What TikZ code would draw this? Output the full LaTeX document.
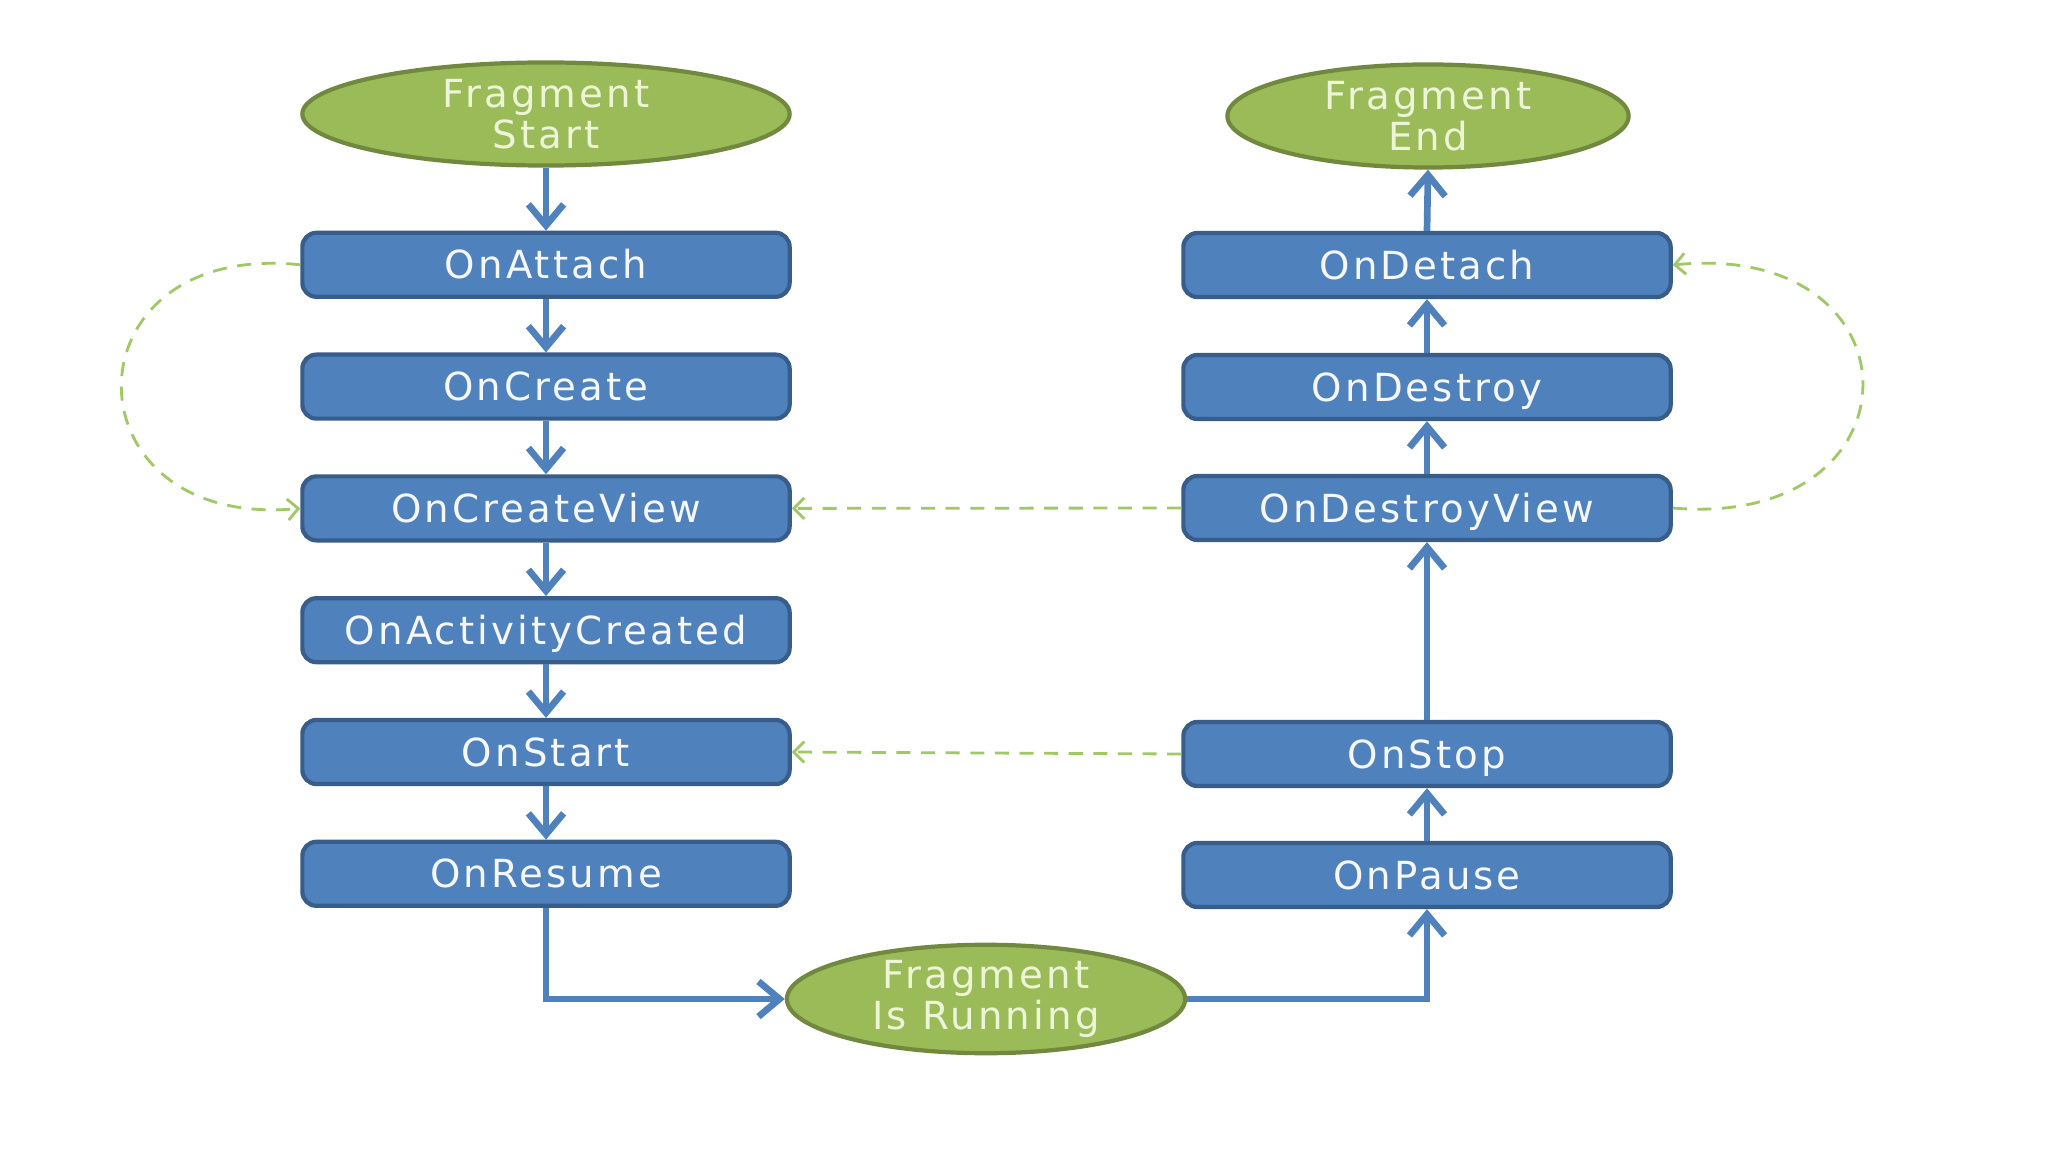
\documentclass[tikz,border=0pt]{standalone}
\usepackage{fontspec}
\setmainfont{DejaVu Sans}
\newfontfamily\flowfont[LetterSpace=8]{DejaVu Sans}
\usetikzlibrary{arrows.meta,shapes.geometric}
\definecolor{boxblue}{RGB}{79,129,189}
\definecolor{boxedge}{RGB}{56,93,138}
\definecolor{ovalgreen}{RGB}{155,187,89}
\definecolor{ovaledge}{RGB}{113,137,63}
\definecolor{ovaltext}{RGB}{236,245,214}
\definecolor{dashgreen}{RGB}{160,200,100}

\begin{document}
\begin{tikzpicture}[x=0.01cm, y=-0.01cm,
  box/.style={draw=boxedge, line width=1.2pt, fill=boxblue, rounded corners=4pt,
    minimum width=4.87cm, minimum height=0.64cm, text=white!94!boxblue,
    text height=0.85em, text depth=0.05em, font=\flowfont\fontsize{11}{13}\selectfont},
  oval/.style={ellipse, draw=ovaledge, line width=1.2pt, fill=ovalgreen, text=ovaltext,
    align=center, inner sep=0pt, minimum height=1.03cm, font=\flowfont\fontsize{11}{11.5}\selectfont},
  flow/.style={draw=boxblue, line width=1.9pt, -{Straight Barb[length=6pt,width=10pt]}},
  back/.style={draw=dashgreen, line width=0.8pt, dash pattern=on 4pt off 3pt,
    -{Straight Barb[length=3pt,width=6pt]}}]
  \useasboundingbox (0,0) rectangle (2048,1152);
  % ---- ovals ----
  \node[oval, minimum width=4.87cm] (fragstart) at (546,114) {Fragment\\Start};
  \node[oval, minimum width=4.01cm] (fragend) at (1428,116) {Fragment\\End};
  \node[oval, minimum width=3.98cm] (running) at (986,999) {Fragment\\Is Running};
  % ---- left column, going down ----
  \foreach \name/\txt [count=\i] in {attach/OnAttach, create/OnCreate,
      createview/OnCreateView, actcreated/OnActivityCreated,
      onstart/OnStart, resume/OnResume}
    \node[box] (\name) at (546,{143+121.8*\i}) {\txt};
  % ---- right column, going up ----
  \node[box] (detach) at (1427,265) {OnDetach};
  \node[box] (destroy) at (1427,387) {OnDestroy};
  \node[box] (destroyview) at (1427,508) {OnDestroyView};
  \node[box] (stop) at (1427,754) {OnStop};
  \node[box] (pause) at (1427,875) {OnPause};
  % ---- main flow ----
  \draw[flow] (fragstart.south) -- (attach.north);
  \draw[flow] (attach) -- (create);
  \draw[flow] (create) -- (createview);
  \draw[flow] (createview) -- (actcreated);
  \draw[flow] (actcreated) -- (onstart);
  \draw[flow] (onstart) -- (resume);
  \draw[flow] (resume.south) |- (running.west);
  \draw[flow] (running.east) -| (pause.south);
  \draw[flow] (pause) -- (stop);
  \draw[flow] (stop) -- (destroyview);
  \draw[flow] (destroyview) -- (destroy);
  \draw[flow] (destroy) -- (detach);
  \draw[flow] (detach.north) -- (fragend.south);
  % ---- dashed returns ----
  \draw[back] (attach.west) .. controls +(-238,-25) and +(-238,22) .. (createview.west);
  \draw[back] (destroyview.east) .. controls +(253,22) and +(253,-25) .. (detach.east);
  \draw[back] (destroyview.west) -- (createview.east);
  \draw[back] (stop.west) -- (onstart.east);
\end{tikzpicture}
\end{document}
